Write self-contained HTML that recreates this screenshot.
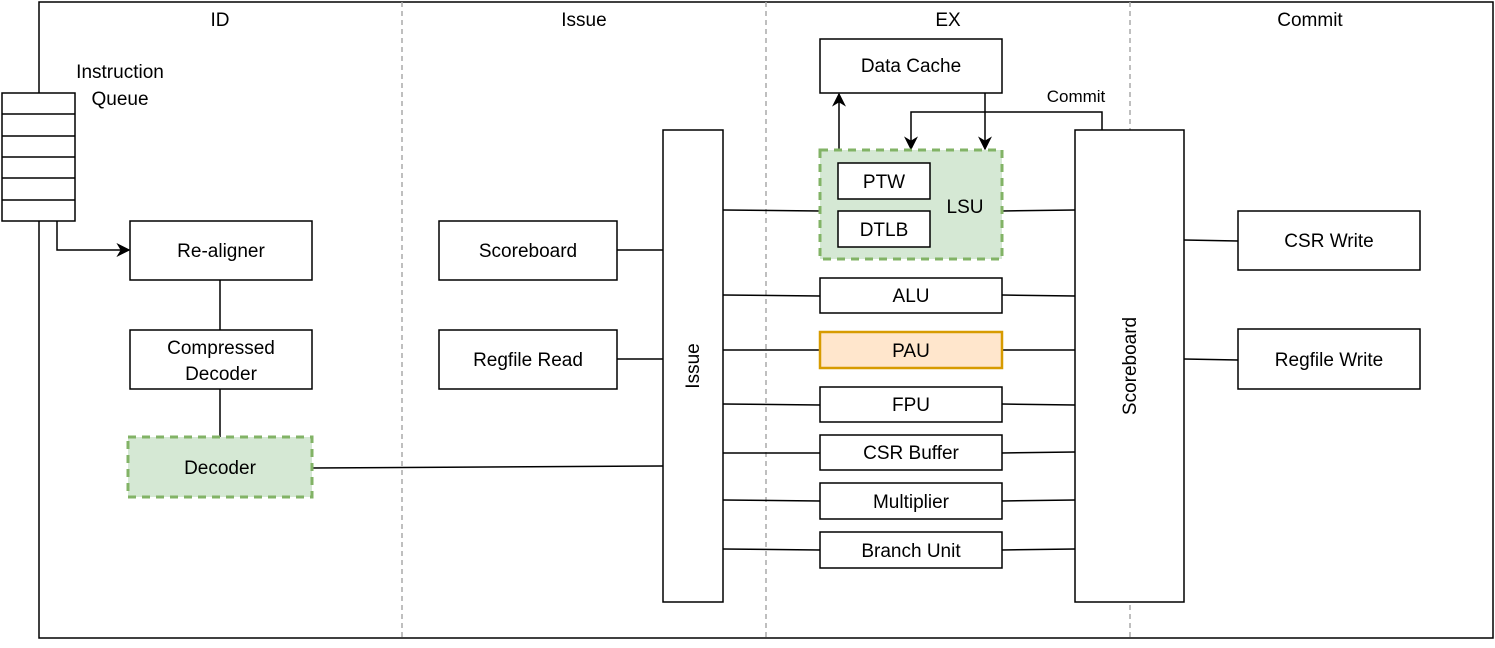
<!DOCTYPE html>
<html><head><meta charset="utf-8"><style>
html,body{margin:0;padding:0;background:#fff;}
svg{display:block;}
text{font-family:"Liberation Sans",Arial,sans-serif;fill:#000;}
</style></head><body>
<svg width="1495" height="648" viewBox="0 0 1495 648" xmlns="http://www.w3.org/2000/svg">
<defs>
<marker id="ar" viewBox="0 0 10 10" refX="9" refY="5" markerWidth="14" markerHeight="14" orient="auto" markerUnits="userSpaceOnUse"><path d="M0,0 L10,5 L0,10 L3,5 z" fill="#000"/></marker>
</defs>
<g fill="none" stroke="#000" stroke-width="1.5">
<rect x="39" y="2" width="1454" height="636" fill="#fff"/>
</g>
<g stroke="#aaa" stroke-width="1.5" stroke-dasharray="5,4">
<line x1="402" y1="2" x2="402" y2="638"/>
<line x1="766" y1="2" x2="766" y2="638"/>
<line x1="1130" y1="2" x2="1130" y2="638"/>
</g>
<g font-size="19" text-anchor="middle">
<text x="220" y="26">ID</text>
<text x="584" y="26">Issue</text>
<text x="948" y="26">EX</text>
<text x="1310" y="26">Commit</text>
</g>
<g fill="#fff" stroke="#000" stroke-width="1.5">
<rect x="2" y="93" width="73" height="128"/>
<line x1="2" y1="114" x2="75" y2="114"/>
<line x1="2" y1="136" x2="75" y2="136"/>
<line x1="2" y1="157" x2="75" y2="157"/>
<line x1="2" y1="178" x2="75" y2="178"/>
<line x1="2" y1="200" x2="75" y2="200"/>
</g>
<text x="120" y="78" font-size="19" text-anchor="middle">Instruction</text>
<text x="120" y="105" font-size="19" text-anchor="middle">Queue</text>
<g fill="none" stroke="#000" stroke-width="1.5">
<polyline points="57,221 57,250 129,250" marker-end="url(#ar)"/>
<line x1="220" y1="280" x2="220" y2="330"/>
<line x1="220" y1="389" x2="220" y2="437"/>
<line x1="312" y1="468" x2="663" y2="466"/>
<line x1="617" y1="250" x2="663" y2="250"/>
<line x1="617" y1="359" x2="663" y2="359"/>
<line x1="723" y1="210" x2="820" y2="211"/>
<line x1="723" y1="295" x2="820" y2="296"/>
<line x1="723" y1="350" x2="820" y2="350"/>
<line x1="723" y1="404" x2="820" y2="405"/>
<line x1="723" y1="453" x2="820" y2="453"/>
<line x1="723" y1="500" x2="820" y2="501"/>
<line x1="723" y1="549" x2="820" y2="550"/>
<line x1="1002" y1="211" x2="1075" y2="210"/>
<line x1="1002" y1="295" x2="1075" y2="296"/>
<line x1="1002" y1="350" x2="1075" y2="350"/>
<line x1="1002" y1="404" x2="1075" y2="405"/>
<line x1="1002" y1="453" x2="1075" y2="452"/>
<line x1="1002" y1="501" x2="1075" y2="500"/>
<line x1="1002" y1="550" x2="1075" y2="549"/>
<line x1="1184" y1="240" x2="1238" y2="241"/>
<line x1="1184" y1="359" x2="1238" y2="360"/>
<line x1="839" y1="150" x2="839" y2="94" marker-end="url(#ar)"/>
<line x1="985" y1="93" x2="985" y2="149" marker-end="url(#ar)"/>
<polyline points="1102,130 1102,112 911,112 911,149" marker-end="url(#ar)"/>
</g>
<text x="1076" y="102" font-size="17" text-anchor="middle">Commit</text>
<g fill="#fff" stroke="#000" stroke-width="1.5">
<rect x="130" y="221" width="182" height="59"/>
<rect x="130" y="330" width="182" height="59"/>
<rect x="439" y="221" width="178" height="59"/>
<rect x="439" y="330" width="178" height="59"/>
<rect x="663" y="130" width="60" height="472"/>
<rect x="820" y="39" width="182" height="54"/>
<rect x="820" y="278" width="182" height="35"/>
<rect x="820" y="387" width="182" height="35"/>
<rect x="820" y="435" width="182" height="35"/>
<rect x="820" y="483" width="182" height="36"/>
<rect x="820" y="532" width="182" height="36"/>
<rect x="1075" y="130" width="109" height="472"/>
<rect x="1238" y="211" width="182" height="59"/>
<rect x="1238" y="329" width="182" height="60"/>
</g>
<rect x="128" y="437" width="184" height="60" fill="#d5e8d4" stroke="#82b366" stroke-width="3" stroke-dasharray="8,6"/>
<rect x="820" y="150" width="182" height="109" fill="#d5e8d4" stroke="#82b366" stroke-width="3" stroke-dasharray="8,6"/>
<rect x="820" y="332" width="182" height="36" fill="#ffe6cc" stroke="#d79b00" stroke-width="2.5"/>
<g fill="#fff" stroke="#000" stroke-width="1.5">
<rect x="838" y="163" width="92" height="36"/>
<rect x="838" y="211" width="92" height="36"/>
</g>
<g font-size="19" text-anchor="middle">
<text x="221" y="257">Re-aligner</text>
<text x="221" y="354">Compressed</text>
<text x="221" y="380">Decoder</text>
<text x="220" y="474">Decoder</text>
<text x="528" y="257">Scoreboard</text>
<text x="528" y="366">Regfile Read</text>
<text x="911" y="72">Data Cache</text>
<text x="884" y="188">PTW</text>
<text x="884" y="236">DTLB</text>
<text x="965" y="213">LSU</text>
<text x="911" y="302">ALU</text>
<text x="911" y="357">PAU</text>
<text x="911" y="411">FPU</text>
<text x="911" y="459">CSR Buffer</text>
<text x="911" y="508">Multiplier</text>
<text x="911" y="557">Branch Unit</text>
<text x="1329" y="247">CSR Write</text>
<text x="1329" y="366">Regfile Write</text>
<text transform="translate(699,366) rotate(-90)">Issue</text>
<text transform="translate(1136,366) rotate(-90)">Scoreboard</text>
</g>
</svg>
</body></html>
